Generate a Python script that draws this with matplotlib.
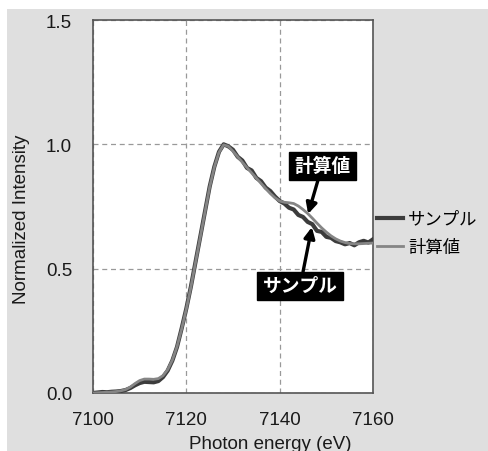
import numpy as np
import matplotlib.pyplot as plt
from matplotlib.patches import Rectangle

plt.rcParams['font.family'] = ['Liberation Sans', 'Noto Sans CJK JP', 'DejaVu Sans']

energy = np.arange(7100, 7161, 1)

sample = [0.000, 0.002, 0.004, 0.003, 0.005, 0.006, 0.008, 0.012, 0.020, 0.031,
          0.040, 0.045, 0.044, 0.043, 0.048, 0.064, 0.090, 0.130, 0.185, 0.260,
          0.340, 0.430, 0.530, 0.630, 0.730, 0.830, 0.910, 0.970, 1.000, 0.992,
          0.978, 0.950, 0.935, 0.905, 0.895, 0.865, 0.852, 0.826, 0.812, 0.790,
          0.772, 0.762, 0.745, 0.738, 0.716, 0.708, 0.688, 0.679, 0.652, 0.648,
          0.628, 0.624, 0.611, 0.606, 0.598, 0.603, 0.594, 0.606, 0.612, 0.605,
          0.618]

calc = [0.000, 0.001, 0.002, 0.003, 0.004, 0.006, 0.009, 0.014, 0.024, 0.038,
        0.050, 0.056, 0.056, 0.055, 0.058, 0.070, 0.094, 0.132, 0.186, 0.258,
        0.338, 0.428, 0.528, 0.628, 0.728, 0.828, 0.908, 0.968, 0.998, 0.992,
        0.972, 0.950, 0.928, 0.906, 0.885, 0.864, 0.843, 0.822, 0.802, 0.785,
        0.772, 0.767, 0.765, 0.762, 0.752, 0.738, 0.722, 0.703, 0.683, 0.664,
        0.647, 0.632, 0.620, 0.611, 0.605, 0.601, 0.600, 0.600, 0.601, 0.602,
        0.603]

labels = ['サンプル', '計算値']
colors = ['#3c3c3c', '#858585']

W, H = 489, 452
fig = plt.figure(figsize=(W / 100, H / 100), dpi=100, facecolor='white')
fig.patches.append(Rectangle((7 / W, 0), 1, (H - 10) / H, transform=fig.transFigure,
                             facecolor='#dfdfdf', edgecolor='none', zorder=-10))

ax = fig.add_axes([93 / W, 1 - 394 / H, (373 - 93) / W, (394 - 21) / H])
ax.set_facecolor('white')

ax.plot(energy, sample, color=colors[0], lw=3.0, label=labels[0], zorder=3)
ax.plot(energy, calc, color=colors[1], lw=2.0, label=labels[1], zorder=4)

ax.set_xlim(7100, 7160)
ax.set_ylim(0, 1.5)
ax.set_xticks([7100, 7120, 7140, 7160])
ax.set_yticks([0.0, 0.5, 1.0, 1.5])
ax.set_yticklabels(['0.0', '0.5', '1.0', '1.5'])
ax.tick_params(length=0, labelsize=13.5, labelcolor='#1a1a1a')
ax.tick_params(axis='x', pad=13)
ax.tick_params(axis='y', pad=15)
ax.grid(True, color='#999999', ls=(0, (4, 3)), lw=0.9)
for s in ax.spines.values():
    s.set_color('#555555')
    s.set_linewidth(1.2)

fig.text(22 / W, 1 - 219 / H, 'Normalized Intensity', rotation=90,
         ha='center', va='center', fontsize=13.5, color='#1a1a1a')
fig.text(270 / W, 1 - 436 / H, 'Photon energy (eV)', ha='center', va='top',
         fontsize=13.5, color='#1a1a1a')

box = dict(boxstyle='square,pad=0.28', fc='black', ec='black')
arrow = dict(arrowstyle='-|>', color='black', lw=2.4, mutation_scale=16,
             shrinkA=0, shrinkB=0)
ax.annotate('計算値', xy=(7146.1, 0.72), xytext=(7149.1, 0.913),
            color='white', fontsize=13.5, fontweight='bold', ha='center', va='center',
            bbox=box, arrowprops=arrow, zorder=6)
ax.annotate('サンプル', xy=(7146.9, 0.667), xytext=(7144.4, 0.43),
            color='white', fontsize=13.5, fontweight='bold', ha='center', va='center',
            bbox=box, arrowprops=arrow, zorder=6)

ax.legend(loc='upper left', bbox_to_anchor=(377 / W, 1 - 212 / H),
          bbox_transform=fig.transFigure, frameon=False, fontsize=12.5,
          handlelength=1.5, handletextpad=0.3, labelspacing=0.72,
          borderpad=0, borderaxespad=0)

fig.savefig('out.png', dpi=100, facecolor=fig.get_facecolor())
